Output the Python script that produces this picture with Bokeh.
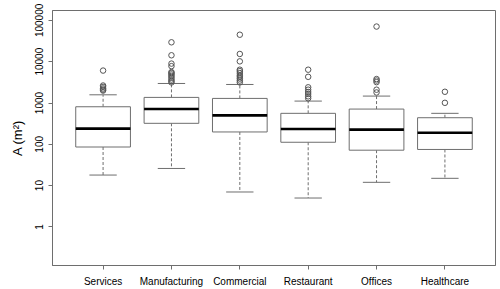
from bokeh.plotting import figure
from bokeh.models import FixedTicker, Range1d, CustomJSTickFormatter
from bokeh.embed import file_html
from bokeh.resources import INLINE

categories = ["Services", "Manufacturing", "Commercial", "Restaurant", "Offices", "Healthcare"]
lower_whisker = [18, 26, 7, 5, 12, 15]
q1 = [86, 322, 199, 112, 72, 75]
median = [239, 713, 503, 235, 226, 191]
q3 = [811, 1367, 1292, 562, 713, 440]
upper_whisker = [1580, 2970, 2810, 1113, 1470, 562]

outliers_services = [6100, 2650, 2450, 2250, 2100, 2000]
outliers_manufacturing = [29500, 14300, 9000, 7800, 5600, 5300, 4900, 4500, 4100, 3700, 3400, 3150]
outliers_commercial = [45000, 15400, 10200, 6400, 5900, 5300, 4700, 4300, 3900, 3500, 3150]
outliers_restaurant = [6400, 4300, 2400, 2100, 1850, 1650, 1450, 1300]
outliers_offices = [71000, 3800, 3500, 3200, 2100, 1800]
outliers_healthcare = [1870, 1010]
outliers = [outliers_services, outliers_manufacturing, outliers_commercial,
            outliers_restaurant, outliers_offices, outliers_healthcare]

y_ticks = [1, 10, 100, 1000, 10000, 100000]

FONT = "Liberation Sans"
GRAY = "#6e6e6e"

p = figure(width=500, height=289, y_axis_type="log",
           x_range=Range1d(0.26, 6.74), y_range=Range1d(10 ** -0.935, 10 ** 5.24),
           output_backend="svg", toolbar_location=None,
           min_border_left=52, min_border_right=5, min_border_top=10, min_border_bottom=23)
p.background_fill_color = "white"
p.border_fill_color = "white"
p.outline_line_color = GRAY
p.outline_line_width = 1
p.xgrid.visible = False
p.ygrid.visible = False

xs = list(range(1, len(categories) + 1))
box_w = 0.8
cap_w = 0.4

# whiskers
p.segment(x0=xs, y0=q3, x1=xs, y1=upper_whisker, line_color=GRAY, line_dash="3 2", line_width=1)
p.segment(x0=xs, y0=q1, x1=xs, y1=lower_whisker, line_color=GRAY, line_dash="3 2", line_width=1)
# caps
p.segment(x0=[x - cap_w / 2 for x in xs], y0=upper_whisker, x1=[x + cap_w / 2 for x in xs], y1=upper_whisker,
          line_color=GRAY, line_width=1)
p.segment(x0=[x - cap_w / 2 for x in xs], y0=lower_whisker, x1=[x + cap_w / 2 for x in xs], y1=lower_whisker,
          line_color=GRAY, line_width=1)
# boxes
p.vbar(x=xs, width=box_w, top=q3, bottom=q1, fill_color="white", line_color=GRAY, line_width=1)
# medians
p.segment(x0=[x - box_w / 2 for x in xs], y0=median, x1=[x + box_w / 2 for x in xs], y1=median,
          line_color="black", line_width=2.6)
# outliers
ox, oy = [], []
for x, vals in zip(xs, outliers):
    for v in vals:
        ox.append(x)
        oy.append(v)
p.scatter(ox, oy, marker="circle", size=5.5, fill_color=None, line_color="#555555", line_width=1)

# x axis
p.xaxis.ticker = FixedTicker(ticks=xs, minor_ticks=[])
p.xaxis.major_label_overrides = {x: c for x, c in zip(xs, categories)}
# y axis
p.yaxis.ticker = FixedTicker(ticks=y_ticks, minor_ticks=[])
p.yaxis.formatter = CustomJSTickFormatter(code="return Math.round(tick).toString();")
p.yaxis.major_label_orientation = "vertical"
p.yaxis.axis_label = "A (m²)"

for ax in (p.xaxis[0], p.yaxis[0]):
    ax.axis_line_color = GRAY
    ax.major_tick_line_color = GRAY
    ax.major_tick_out = 4
    ax.major_tick_in = 0
    ax.minor_tick_line_color = None
    ax.major_label_text_font = FONT
    ax.major_label_text_font_size = "10px"
    ax.major_label_text_color = "black"
    ax.axis_label_text_font = FONT
    ax.axis_label_text_font_style = "normal"
    ax.axis_label_text_font_size = "13px"
    ax.axis_label_text_color = "black"

p.xaxis.major_label_standoff = 6
p.yaxis.major_label_standoff = 5
p.yaxis.axis_label_standoff = 8

open("out.html", "w").write(file_html(p, INLINE))
